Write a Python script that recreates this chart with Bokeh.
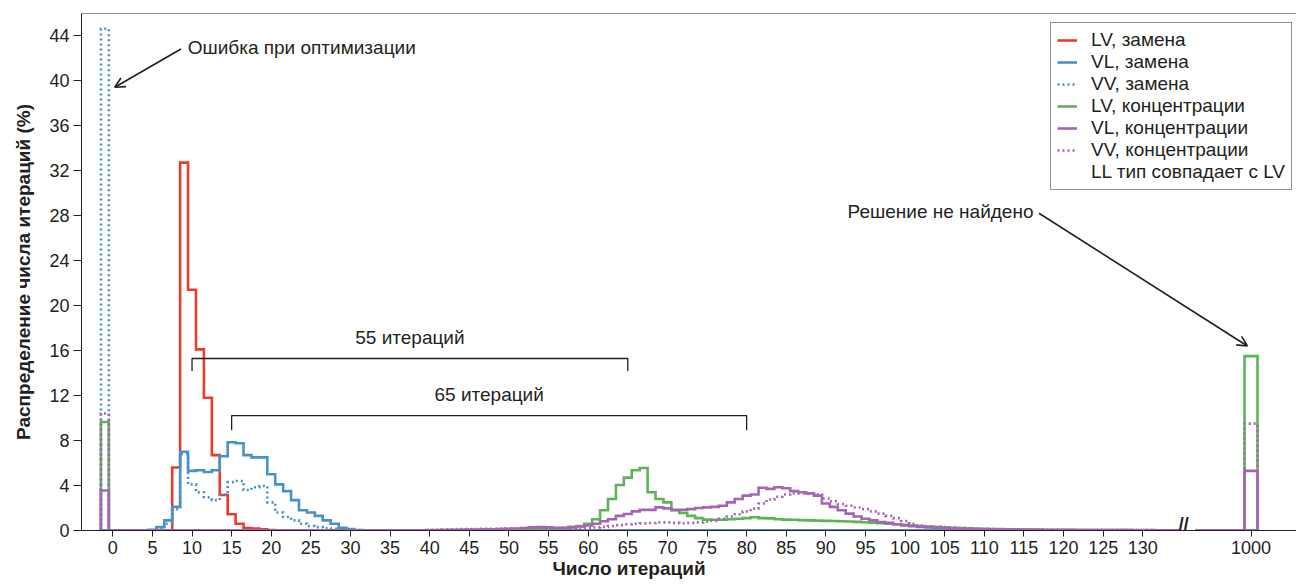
from bokeh.plotting import figure
from bokeh.models import (Range1d, FixedTicker, Label, Arrow, OpenHead, Span,
                          Legend, LegendItem, Title)
from bokeh.embed import file_html
from bokeh.resources import INLINE

FONT = "Liberation Sans"
INK = "#231f20"

# ---------------- data ----------------
x_tick_values = list(range(0, 135, 5))
tail_tick_value = 1000
y_tick_values = list(range(0, 45, 4))

series_labels = ["LV, замена", "VL, замена", "VV, замена",
                 "LV, концентрации", "VL, концентрации", "VV, концентрации"]
extra_legend_label = "LL тип совпадает с LV"

# histogram bins: values (%) starting at the given iteration count
lv_sub_start = 8
lv_sub = [5.6, 32.7, 21.4, 16.1, 11.8, 6.7, 3.15, 1.45, 0.6, 0.22, 0.18, 0.1, 0.05]

vl_sub_start = 5
vl_sub = [0.06, 0.3, 0.9, 2.1, 7.0, 5.3, 5.35, 5.2, 5.35, 6.6, 7.85, 7.75, 6.7, 6.5,
          6.5, 5.0, 4.1, 3.5, 2.7, 1.8, 1.6, 1.3, 0.9, 0.6, 0.25, 0.12, 0.05]

vv_sub_start = 6
vv_sub = [0.2, 0.6, 1.9, 6.8, 4.1, 3.4, 2.95, 2.7, 3.2, 4.3, 4.4, 3.6, 3.85, 3.95,
          2.5, 1.6, 1.2, 0.9, 0.6, 0.4, 0.3, 0.2, 0.15, 0.1, 0.06, 0.03]

lv_conc_start = 40
lv_conc = [0.02, 0.02, 0.03, 0.03, 0.04, 0.05, 0.05, 0.06, 0.07, 0.08,
           0.09, 0.1, 0.1, 0.12, 0.13, 0.15, 0.18, 0.22, 0.3, 0.4,
           0.6, 1.0, 1.8, 2.8, 4.05, 4.7, 5.35, 5.55, 3.4, 2.8,
           2.5, 1.8, 1.55, 1.3, 1.1, 0.97, 0.95, 0.95, 1.0, 1.05,
           1.1, 1.18, 1.1, 1.08, 1.0, 0.97, 0.95, 0.92, 0.9, 0.88,
           0.86, 0.84, 0.82, 0.8, 0.77, 0.74, 0.7, 0.65, 0.6, 0.55,
           0.5, 0.45, 0.4, 0.35, 0.31, 0.28, 0.25, 0.22, 0.19, 0.17,
           0.15, 0.13, 0.12, 0.11, 0.1, 0.09, 0.08, 0.08, 0.07, 0.07,
           0.06, 0.06, 0.05, 0.05, 0.05, 0.04, 0.04, 0.04, 0.03, 0.03,
           0.03, 0.03, 0.02, 0.02, 0.02]

vl_conc_start = 40
vl_conc = [0.03, 0.04, 0.05, 0.06, 0.07, 0.08, 0.09, 0.1, 0.11, 0.13,
           0.15, 0.18, 0.22, 0.28, 0.3, 0.28, 0.25, 0.25, 0.3, 0.35,
           0.45, 0.6, 0.82, 1.0, 1.3, 1.47, 1.7, 1.83, 1.83, 2.06,
           1.97, 1.83, 1.83, 1.9, 2.0, 2.06, 2.1, 2.2, 2.5, 2.8,
           3.1, 3.2, 3.8, 3.7, 3.85, 3.75, 3.5, 3.4, 3.3, 3.1,
           2.4, 2.1, 1.8, 1.5, 1.25, 1.05, 0.9, 0.75, 0.68, 0.55,
           0.45, 0.38, 0.32, 0.28, 0.24, 0.2, 0.17, 0.14, 0.12, 0.1,
           0.09, 0.08, 0.08, 0.07, 0.07, 0.06, 0.06, 0.05, 0.05, 0.05,
           0.04, 0.04, 0.04, 0.04, 0.03, 0.03, 0.03, 0.03, 0.03, 0.02,
           0.02, 0.02, 0.02, 0.02, 0.02]

vv_conc_start = 40
vv_conc = [0.05, 0.07, 0.09, 0.1, 0.12, 0.13, 0.14, 0.15, 0.16, 0.17,
           0.18, 0.18, 0.18, 0.18, 0.17, 0.16, 0.16, 0.17, 0.18, 0.2,
           0.22, 0.28, 0.32, 0.4, 0.48, 0.55, 0.6, 0.63, 0.67, 0.72,
           0.72, 0.68, 0.65, 0.68, 0.72, 0.78, 0.85, 1.05, 1.25, 1.45,
           1.7, 1.95, 2.4, 2.75, 3.0, 3.2, 3.3, 3.3, 3.25, 3.2,
           2.85, 2.6, 2.35, 2.2, 2.05, 1.9, 1.7, 1.5, 1.3, 1.1,
           0.85, 0.6, 0.45, 0.38, 0.33, 0.3, 0.27, 0.22, 0.18, 0.15,
           0.13, 0.12, 0.11, 0.1, 0.1, 0.09, 0.08, 0.08, 0.07, 0.07,
           0.06, 0.06, 0.05, 0.05, 0.05, 0.04, 0.04, 0.04, 0.03, 0.03,
           0.03, 0.03, 0.02, 0.02, 0.02]

# "optimisation error" bin and "no solution found" (1000 iterations) bin
error_values = [0.0, 0.0, 44.6, 9.65, 3.55, 10.4]
notfound_values = [0.0, 0.0, 0.0, 15.5, 5.3, 9.5]

# bracket annotations: (from, to)
bracket_55 = (10, 65)
bracket_65 = (15, 80)

# ---------------- styling ----------------
colors = ["#ee3a2a", "#4892cb", "#4892cb", "#5cb553", "#a565b6", "#a565b6"]
dashes = ["solid", "solid", "2 3", "solid", "solid", "2 3"]
LW = 2.6
TXT = "19px"

MAIN_LAST = 134          # last bin of the main (linear) part of the axis
ERROR_POS = -1           # position of the error bin
TAIL_POS = 143.66        # axis position where 1000 iterations is drawn
TAIL_OFFSET = tail_tick_value - TAIL_POS
TAIL_START = 993         # line resumes after the axis break
TAIL_HW = 0.82           # half width of the 1000 bin
Y_MAX = 45.96

p = figure(width=1296, height=584, output_backend="svg", toolbar_location=None,
           x_range=Range1d(-3.95, 149.4), y_range=Range1d(0, Y_MAX),
           min_border_left=81, min_border_right=0, min_border_top=13,
           min_border_bottom=54)
p.outline_line_color = None
p.xgrid.visible = False
p.ygrid.visible = False
p.background_fill_color = "white"
p.border_fill_color = "white"

# axes
xa = p.xaxis[0]
xa.ticker = FixedTicker(ticks=x_tick_values + [tail_tick_value - TAIL_OFFSET])
xa.major_label_overrides = {tail_tick_value - TAIL_OFFSET: str(tail_tick_value)}
xa.major_tick_in = 0
xa.major_tick_out = 6
xa.minor_tick_line_color = None
xa.axis_line_color = INK
xa.major_tick_line_color = INK
xa.major_label_text_font = FONT
xa.major_label_text_font_size = "18px"
xa.major_label_text_color = INK
xa.major_label_standoff = 4

ya = p.yaxis[0]
ya.ticker = FixedTicker(ticks=y_tick_values)
ya.major_tick_in = 0
ya.major_tick_out = 8
ya.minor_tick_line_color = None
ya.axis_line_color = INK
ya.major_tick_line_color = INK
ya.major_label_text_font = FONT
ya.major_label_text_font_size = "18px"
ya.major_label_text_color = INK
ya.major_label_standoff = 4
ya.axis_label = "Распределение числа итераций (%)"
ya.axis_label_text_font = FONT
ya.axis_label_text_font_style = "bold"
ya.axis_label_text_font_size = TXT
ya.axis_label_text_color = INK
ya.axis_label_standoff = 12

p.add_layout(Span(location=Y_MAX, dimension="width", line_color=INK, line_width=1))

# x axis title (placed left of centre, as in the source figure)
p.add_layout(Title(text="Число итераций", align="left", offset=471, standoff=-1,
                   text_font=FONT, text_font_size=TXT, text_font_style="bold",
                   text_color=INK), "below")


def step_outline(start, vals, err):
    full = [0.0] * (MAIN_LAST + 1)
    for i, v in enumerate(vals):
        full[start + i] = v
    xs = [ERROR_POS - 0.5, ERROR_POS - 0.5, ERROR_POS + 0.5]
    ys = [0.0, err, err]
    for b in range(0, MAIN_LAST + 1):
        xs += [b - 0.5, b + 0.5]
        ys += [full[b], full[b]]
    xs.append(MAIN_LAST + 0.5)
    ys.append(0.0)
    return xs, ys


def tail_outline(v):
    c = tail_tick_value - TAIL_OFFSET
    xs = [TAIL_START - TAIL_OFFSET, c - TAIL_HW, c - TAIL_HW, c + TAIL_HW, c + TAIL_HW]
    ys = [0.0, 0.0, v, v, 0.0]
    return xs, ys


all_series = [(lv_sub_start, lv_sub), (vl_sub_start, vl_sub), (vv_sub_start, vv_sub),
              (lv_conc_start, lv_conc), (vl_conc_start, vl_conc), (vv_conc_start, vv_conc)]

items = []
for k, (start, vals) in enumerate(all_series):
    xs, ys = step_outline(start, vals, error_values[k])
    r = p.line(xs, ys, line_color=colors[k], line_width=LW, line_dash=dashes[k],
               line_join="miter")
    tx, ty = tail_outline(notfound_values[k])
    p.line(tx, ty, line_color=colors[k], line_width=LW, line_dash=dashes[k],
           line_join="miter")
    items.append(LegendItem(label=series_labels[k], renderers=[r]))

ghost = p.line([0, 0], [0, 0], line_alpha=0)
items.append(LegendItem(label=extra_legend_label, renderers=[ghost]))

legend = Legend(items=items, location=(969, 340))
legend.label_text_font = FONT
legend.label_text_font_size = "19px"
legend.label_text_color = INK
legend.label_height = 22
legend.glyph_height = 16
legend.glyph_width = 20
legend.label_standoff = 14
legend.spacing = 0
legend.padding = 6
legend.margin = 0
legend.border_line_color = INK
legend.border_line_width = 1
legend.background_fill_alpha = 1
p.add_layout(legend, "center")

# brackets
def bracket(a, b, y, drop, text, ty):
    p.line([a, a, b, b], [y - drop, y, y, y - drop], line_color=INK, line_width=1.3)
    p.add_layout(Label(x=(a + b) / 2, y=ty, text=text, text_align="center",
                       text_baseline="middle", text_font=FONT,
                       text_font_size=TXT, text_color=INK))

bracket(bracket_55[0], bracket_55[1], 15.29, 1.1,
        f"{bracket_55[1] - bracket_55[0]} итераций", 17.18)
bracket(bracket_65[0], bracket_65[1], 10.22, 1.3,
        f"{bracket_65[1] - bracket_65[0]} итераций", 12.09)

# arrows with notes
p.add_layout(Label(x=9.45, y=42.96, text="Ошибка при оптимизации", text_align="left",
                   text_baseline="middle", text_font=FONT, text_font_size=TXT,
                   text_color=INK))
p.add_layout(Arrow(end=OpenHead(size=10, line_width=1.6, line_color=INK),
                   x_start=8.6, y_start=42.8, x_end=0.25, y_end=39.4,
                   line_width=1.6, line_color=INK))

p.add_layout(Label(x=116.2, y=28.38, text="Решение не найдено", text_align="right",
                   text_baseline="middle", text_font=FONT, text_font_size=TXT,
                   text_color=INK))
p.add_layout(Arrow(end=OpenHead(size=10, line_width=1.6, line_color=INK),
                   x_start=116.9, y_start=28.2, x_end=143.2, y_end=16.4,
                   line_width=1.6, line_color=INK))

# axis break mark
p.add_layout(Label(x=(MAIN_LAST + 0.5 + TAIL_START - TAIL_OFFSET) / 2 - 0.4, y=-0.35,
                   text="//", text_align="center", text_baseline="bottom",
                   text_font=FONT, text_font_size="18px", text_font_style="bold",
                   text_color=INK))

open("out.html", "w").write(file_html(p, INLINE))
